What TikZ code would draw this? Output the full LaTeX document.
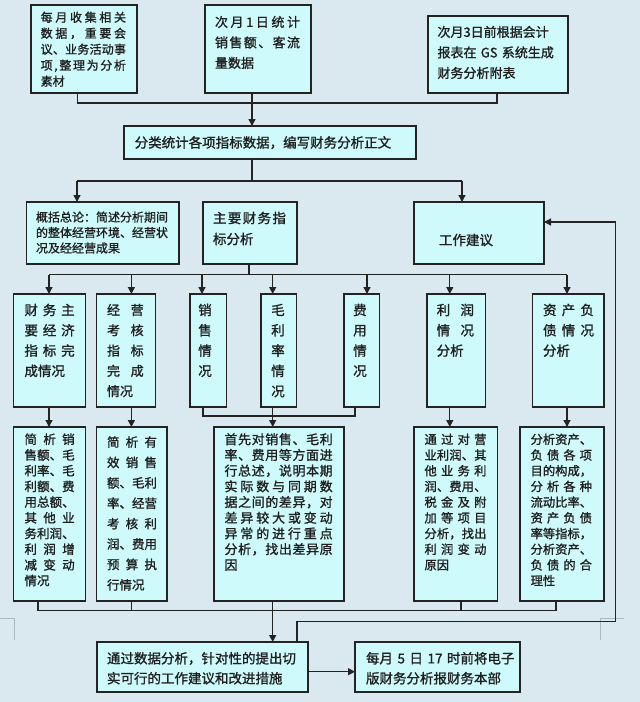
\documentclass[tikz,border=0pt]{standalone}
\usepackage{fontspec}
\setmainfont{Noto Sans CJK SC}[FakeBold=1.2]
\usetikzlibrary{arrows.meta}
\definecolor{bg}{RGB}{218,233,240}
\definecolor{boxfill}{RGB}{206,250,252}
\definecolor{ln}{RGB}{35,35,35}
\definecolor{markc}{RGB}{170,185,195}
\ExplSyntaxOn
\NewDocumentCommand \J { m } { \leavevmode \hbox_to_wd:nn { \hsize } { \tl_map_inline:nn { #1 } { ##1 \hfil } \unskip } }
\ExplSyntaxOff
\tikzset{
  box/.style={draw=ln, fill=boxfill, line width=1.2pt, inner sep=0pt, outer sep=0pt, anchor=north west},
  txt/.style={inner sep=0pt, outer sep=0pt, anchor=base west, align=left, text=black!88},
  vtxt/.style={inner sep=0pt, outer sep=0pt, anchor=base, align=center, text=black!88, text width=14pt},
  conn/.style={draw=ln, line width=1.3pt},
  arr/.style={conn, -{Triangle[length=7pt,width=7pt]}},
  markline/.style={draw=markc, line width=0.9pt},
}
\begin{document}
\begin{tikzpicture}[x=1pt,y=-1pt]
\fill[bg] (0,0) rectangle (640,702);
\useasboundingbox (0,0) rectangle (640,702);
% corner marks
\draw[markline] (0,618) -- (14,618) -- (14,640);
\draw[markline] (624,618) -- (600,618) -- (600,640);
% ---------- boxes ----------
\node[box, minimum width=106pt, minimum height=88pt] (A) at (31,5) {};
\node[box, minimum width=106pt, minimum height=88pt] (B) at (205,5) {};
\node[box, minimum width=140pt, minimum height=77pt] (C) at (428,16) {};
\node[box, minimum width=292pt, minimum height=33pt] (D) at (124,126) {};
\node[box, minimum width=152.5pt, minimum height=62pt] (E) at (26.5,202) {};
\node[box, minimum width=94pt, minimum height=62pt] (F) at (203,202) {};
\node[box, minimum width=130pt, minimum height=62pt] (G) at (414,202) {};
\node[box, minimum width=72.2pt, minimum height=113pt] (H1) at (13.5,294) {};
\node[box, minimum width=58.8pt, minimum height=113pt] (H2) at (96.7,294) {};
\node[box, minimum width=36.5pt, minimum height=113pt] (H3) at (190,294) {};
\node[box, minimum width=35.7pt, minimum height=113pt] (H4) at (261,294) {};
\node[box, minimum width=35.6pt, minimum height=113pt] (H5) at (344,294) {};
\node[box, minimum width=58.7pt, minimum height=113pt] (H6) at (427,294) {};
\node[box, minimum width=71.3pt, minimum height=113pt] (H7) at (532.7,294) {};
\node[box, minimum width=72.2pt, minimum height=174pt] (I1) at (13.5,427) {};
\node[box, minimum width=70.3pt, minimum height=174pt] (I2) at (96.7,427) {};
\node[box, minimum width=130pt, minimum height=174pt] (I3) at (214,427) {};
\node[box, minimum width=83.5pt, minimum height=174pt] (I4) at (414,427) {};
\node[box, minimum width=84pt, minimum height=174pt] (I5) at (520,427) {};
\node[box, minimum width=211pt, minimum height=50pt] (J) at (97,642) {};
\node[box, minimum width=165pt, minimum height=50pt] (K) at (355,642) {};
% ---------- texts ----------
\node[txt, text width=85.3pt, font=\fontsize{12}{16}\selectfont] (At) at (40.7,21.8)
  {\J{每月收集相关}\\\J{数据，重要会}\\\J{议、业务活动事}\\\J{项,整理为分析}\\素材};
\node[txt, text width=85pt, font=\fontsize{13}{20.5}\selectfont] (Bt) at (215,26.9)
  {\J{次月1日统计}\\\J{销售额、客流}\\量数据};
\node[txt, text width=126pt, font=\fontsize{13}{20.5}\selectfont] (Ct) at (437.5,36.9)
  {次月3日前根据会计\\报表在 GS 系统生成\\财务分析附表};
\node[txt, font=\fontsize{13.5}{16}\selectfont] (Dt) at (134.7,147.6)
  {分类统计各项指标数据，编写财务分析正文};
\node[txt, text width=140pt, font=\fontsize{12}{15.5}\selectfont] (Et) at (36,221.6)
  {概括总论：简述分析期间\\的整体经营环境、经营状\\况及经经营成果};
\node[txt, text width=73pt, font=\fontsize{13.5}{21}\selectfont] (Ft) at (213,223.1)
  {\J{主要财务指}\\标分析};
\node[txt, font=\fontsize{13.5}{16}\selectfont] (Gt) at (439,245.1) {工作建议};
\node[txt, text width=50.2pt, font=\fontsize{13.5}{20.3}\selectfont] (H1t) at (24.5,315.1)
  {\J{财务主}\\\J{要经济}\\\J{指标完}\\成情况};
\node[txt, text width=36.7pt, font=\fontsize{13}{20.3}\selectfont] (H2t) at (107,314.9)
  {\J{经营}\\\J{考核}\\\J{指标}\\\J{完成}\\情况};
\node[vtxt, font=\fontsize{13.5}{20.3}\selectfont] (H3t) at (205,315.1) {销\\售\\情\\况};
\node[vtxt, font=\fontsize{13.5}{20.3}\selectfont] (H4t) at (278,315.1) {毛\\利\\率\\情\\况};
\node[vtxt, font=\fontsize{13.5}{20.3}\selectfont] (H5t) at (360,315.1) {费\\用\\情\\况};
\node[txt, text width=37.3pt, font=\fontsize{13.5}{20.3}\selectfont] (H6t) at (436.7,315.1)
  {\J{利润}\\\J{情况}\\分析};
\node[txt, text width=51pt, font=\fontsize{13.5}{20.3}\selectfont] (H7t) at (543,315.1)
  {\J{资产负}\\\J{债情况}\\分析};
\node[txt, text width=50.2pt, font=\fontsize{12.5}{15.7}\selectfont] (I1t) at (24.5,444)
  {\J{简析销}\\\J{售额、毛}\\\J{利率、毛}\\\J{利额、费}\\\J{用总额、}\\\J{其他业}\\\J{务利润、}\\\J{利润增}\\\J{减变动}\\情况};
\node[txt, text width=50pt, font=\fontsize{12.5}{20.4}\selectfont] (I2t) at (107,446.8)
  {\J{简析有}\\\J{效销售}\\\J{额、毛利}\\\J{率、经营}\\\J{考核利}\\\J{润、费用}\\\J{预算执}\\行情况};
\node[txt, text width=108.2pt, font=\fontsize{13}{15.7}\selectfont] (I3t) at (224.5,444.2)
  {\J{首先对销售、毛利}\\\J{率、费用等方面进}\\\J{行总述，说明本期}\\\J{实际数与同期数}\\\J{据之间的差异，对}\\\J{差异较大或变动}\\\J{异常的进行重点}\\\J{分析，找出差异原}\\因};
\node[txt, text width=62pt, font=\fontsize{12.3}{15.7}\selectfont] (I4t) at (424.5,444)
  {\J{通过对营}\\\J{业利润、其}\\\J{他业务利}\\\J{润、费用、}\\\J{税金及附}\\\J{加等项目}\\\J{分析，找出}\\\J{利润变动}\\原因};
\node[txt, text width=61.4pt, font=\fontsize{12.3}{15.7}\selectfont] (I5t) at (530.6,444)
  {\J{分析资产、}\\\J{负债各项}\\\J{目的构成，}\\\J{分析各种}\\\J{流动比率、}\\\J{资产负债}\\\J{率等指标，}\\\J{分析资产、}\\\J{负债的合}\\理性};
\node[txt, text width=200pt, font=\fontsize{13.5}{20}\selectfont] (Jt) at (107,663.4)
  {通过数据分析，针对性的提出切\\实可行的工作建议和改进措施};
\node[txt, text width=150pt, font=\fontsize{13.5}{20}\selectfont] (Kt) at (366,663.4)
  {每月 5 日 17 时前将电子\\版财务分析报财务本部};
% ---------- connectors ----------
\coordinate (mA) at (77.5,103);
\coordinate (mC) at (497,103);
\coordinate (xB) at (252,103);
\draw[conn] (A.south -| mA) -- (mA) -- (mC) -- (C.south -| mC);
\draw[arr] (B.south -| xB) -- (D.north -| xB);
\coordinate (jD) at (252,181);
\coordinate (jE) at (77,181);
\coordinate (jG) at (462,181);
\draw[conn] (D.south -| jD) -- (jD);
\draw[conn] (jE) -- (jG);
\draw[arr] (jE) -- (E.north -| jE);
\draw[arr] (jG) -- (G.north -| jG);
\coordinate (jF) at (249,274.5);
\coordinate (j1) at (49,274.5);
\coordinate (j2) at (131.4,274.5);
\coordinate (j3) at (202,274.5);
\coordinate (j4) at (272.7,274.5);
\coordinate (j5) at (367,274.5);
\coordinate (j6) at (449.8,274.5);
\coordinate (j7) at (567,274.5);
\draw[conn] (F.south -| jF) -- (jF);
\draw[conn] (j1) -- (j7);
\draw[arr] (j1) -- (H1.north -| j1);
\draw[arr] (j2) -- (H2.north -| j2);
\draw[arr] (j3) -- (H3.north -| j3);
\draw[arr] (j4) -- (H4.north -| j4);
\draw[arr] (j5) -- (H5.north -| j5);
\draw[arr] (j6) -- (H6.north -| j6);
\draw[arr] (j7) -- (H7.north -| j7);
\draw[arr] (H1.south -| j1) -- (I1.north -| j1);
\draw[arr] (H2.south -| j2) -- (I2.north -| j2);
\coordinate (s3) at (203,416);
\coordinate (s5) at (355,416);
\draw[conn] (H3.south -| s3) -- (s3) -- (s5) -- (H5.south -| s5);
\draw[arr] (H4.south -| j4) -- (I3.north -| j4);
\draw[arr] (H6.south -| j6) -- (I4.north -| j6);
\draw[arr] (H7.south -| j7) -- (I5.north -| j7);
\coordinate (b1) at (38,610.7);
\coordinate (b2) at (131.4,610.7);
\coordinate (b4) at (461,610.7);
\coordinate (b5) at (556,610.7);
\draw[conn] (I1.south -| b1) -- (b1) -- (b5) -- (I5.south -| b5);
\draw[conn] (I2.south -| b2) -- (b2);
\draw[conn] (I4.south -| b4) -- (b4);
\draw[arr] (I3.south -| j4) -- (J.north -| j4);
\coordinate (yk) at (330,671.7);
\draw[arr] (J.east |- yk) -- (K.west |- yk);
\coordinate (f1) at (297,621.7);
\coordinate (f2) at (615.5,621.7);
\coordinate (f3) at (615.5,222);
\draw[arr] (J.north -| f1) -- (f1) -- (f2) -- (f3) -- (G.east |- f3);
\end{tikzpicture}
\end{document}
